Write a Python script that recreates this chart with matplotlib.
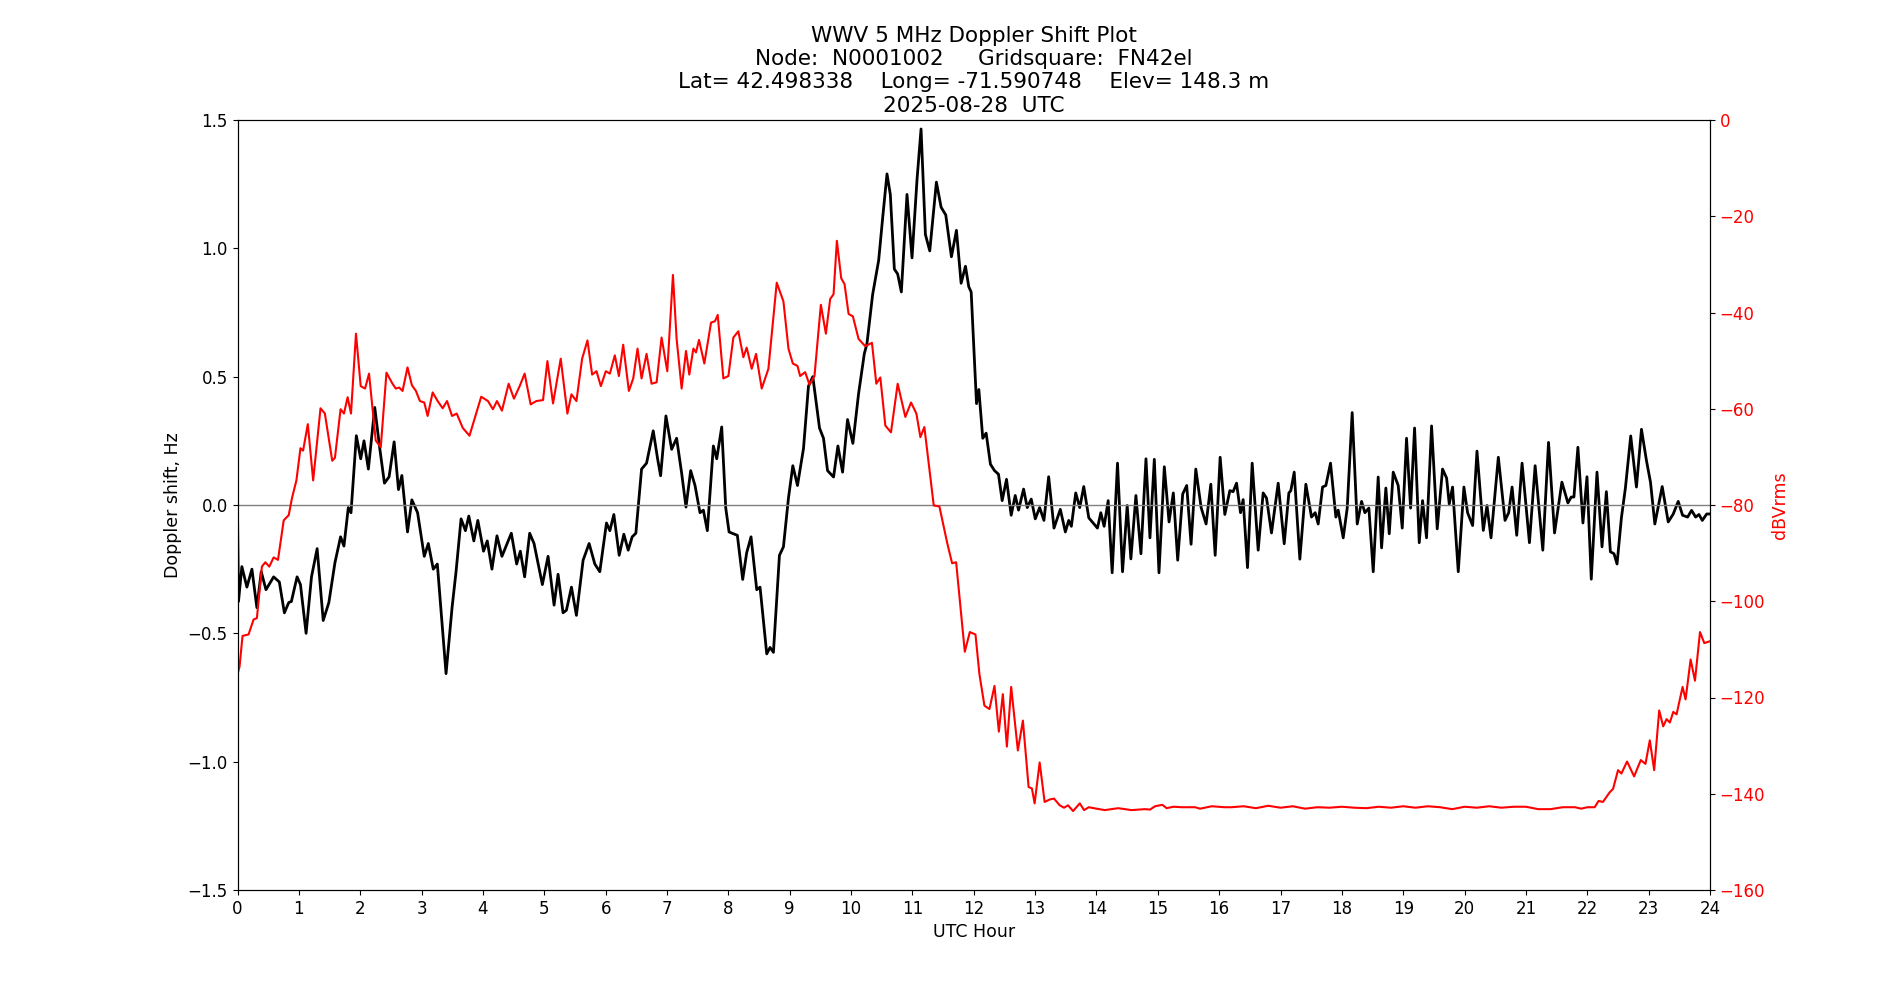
import matplotlib
matplotlib.use('Agg')
import matplotlib.pyplot as plt
import numpy as np

# Doppler shift (Hz) vs UTC hour
dop_hours = [0.0, 0.016, 0.071, 0.153, 0.235, 0.316, 0.387, 0.464, 0.589, 0.682, 0.764, 0.835, 0.878,
             0.971, 1.026, 1.118, 1.206, 1.298, 1.397, 1.489, 1.588, 1.68, 1.735, 1.806, 1.85, 1.937,
             2.008, 2.062, 2.133, 2.237, 2.319, 2.395, 2.471, 2.553, 2.624, 2.679, 2.771, 2.842, 2.935,
             3.044, 3.11, 3.191, 3.257, 3.399, 3.497, 3.562, 3.644, 3.715, 3.77, 3.852, 3.917, 4.01,
             4.071, 4.147, 4.229, 4.31, 4.463, 4.55, 4.61, 4.68, 4.762, 4.833, 4.969, 5.062, 5.16,
             5.225, 5.306, 5.361, 5.443, 5.524, 5.633, 5.731, 5.824, 5.905, 6.014, 6.069, 6.134, 6.221,
             6.297, 6.368, 6.433, 6.493, 6.586, 6.667, 6.776, 6.847, 6.896, 6.983, 7.076, 7.157, 7.239,
             7.31, 7.386, 7.457, 7.538, 7.593, 7.658, 7.756, 7.811, 7.892, 7.958, 8.012, 8.082, 8.147,
             8.234, 8.299, 8.37, 8.463, 8.517, 8.626, 8.68, 8.735, 8.833, 8.898, 8.98, 9.051, 9.127,
             9.225, 9.306, 9.377, 9.486, 9.551, 9.617, 9.715, 9.786, 9.862, 9.943, 10.03, 10.123,
             10.216, 10.259, 10.352, 10.45, 10.52, 10.586, 10.64, 10.706, 10.76, 10.82, 10.912, 10.994,
             11.076, 11.141, 11.212, 11.283, 11.391, 11.468, 11.544, 11.636, 11.718, 11.794, 11.865,
             11.919, 11.958, 12.045, 12.083, 12.147, 12.202, 12.272, 12.338, 12.403, 12.463, 12.534,
             12.61, 12.676, 12.73, 12.812, 12.872, 12.937, 13.003, 13.074, 13.144, 13.221, 13.308,
             13.411, 13.493, 13.548, 13.591, 13.662, 13.728, 13.793, 13.875, 13.946, 14.016, 14.071,
             14.125, 14.191, 14.256, 14.343, 14.425, 14.501, 14.561, 14.643, 14.725, 14.807, 14.872,
             14.943, 15.019, 15.106, 15.183, 15.253, 15.324, 15.406, 15.471, 15.542, 15.619, 15.706,
             15.787, 15.864, 15.935, 16.016, 16.092, 16.174, 16.228, 16.283, 16.348, 16.391, 16.462,
             16.538, 16.636, 16.717, 16.772, 16.853, 16.962, 17.06, 17.136, 17.168, 17.223, 17.315,
             17.413, 17.505, 17.565, 17.614, 17.685, 17.739, 17.815, 17.902, 17.94, 18.022, 18.087,
             18.168, 18.25, 18.321, 18.375, 18.44, 18.511, 18.592, 18.647, 18.717, 18.772, 18.837,
             18.918, 18.984, 19.054, 19.12, 19.185, 19.261, 19.315, 19.38, 19.462, 19.554, 19.641,
             19.707, 19.75, 19.804, 19.897, 19.989, 20.049, 20.131, 20.202, 20.305, 20.365, 20.431,
             20.55, 20.659, 20.719, 20.774, 20.85, 20.937, 21.057, 21.15, 21.275, 21.368, 21.466,
             21.586, 21.684, 21.738, 21.782, 21.847, 21.929, 21.995, 22.065, 22.158, 22.24, 22.311,
             22.376, 22.436, 22.485, 22.556, 22.621, 22.708, 22.801, 22.883, 22.965, 23.03, 23.101,
             23.221, 23.319, 23.401, 23.482, 23.553, 23.635, 23.7, 23.766, 23.82, 23.875, 23.946, 24.0]
dop_vals = [-0.02, -0.376, -0.24, -0.32, -0.25, -0.40, -0.26, -0.33, -0.28, -0.30, -0.42, -0.38, -0.376,
            -0.28, -0.31, -0.50, -0.28, -0.17, -0.45, -0.38, -0.225, -0.124, -0.16, -0.01, -0.03, 0.27,
            0.18, 0.25, 0.14, 0.38, 0.22, 0.085, 0.11, 0.246, 0.06, 0.115, -0.105, 0.02, -0.03,
            -0.20, -0.15, -0.25, -0.23, -0.657, -0.40, -0.26, -0.054, -0.10, -0.043, -0.14, -0.06, -0.18,
            -0.14, -0.25, -0.12, -0.20, -0.11, -0.23, -0.18, -0.28, -0.11, -0.15, -0.31, -0.20, -0.39,
            -0.27, -0.42, -0.41, -0.32, -0.43, -0.215, -0.15, -0.23, -0.26, -0.07, -0.10, -0.037, -0.196,
            -0.114, -0.176, -0.124, -0.11, 0.14, 0.163, 0.289, 0.18, 0.114, 0.347, 0.217, 0.26, 0.124,
            -0.008, 0.134, 0.076, -0.03, -0.02, -0.10, 0.23, 0.18, 0.304, -0.012, -0.105, -0.112, -0.118,
            -0.29, -0.186, -0.124, -0.33, -0.32, -0.58, -0.555, -0.574, -0.196, -0.163, 0.027, 0.153, 0.076,
            0.22, 0.463, 0.50, 0.30, 0.26, 0.134, 0.109, 0.23, 0.128, 0.333, 0.24, 0.434,
            0.589, 0.628, 0.82, 0.953, 1.13, 1.29, 1.21, 0.919, 0.90, 0.83, 1.21, 0.963,
            1.27, 1.465, 1.054, 0.99, 1.258, 1.16, 1.13, 0.967, 1.07, 0.864, 0.93,
            0.85, 0.83, 0.395, 0.45, 0.26, 0.28, 0.159, 0.134, 0.12, 0.017, 0.10,
            -0.04, 0.037, -0.02, 0.062, -0.01, 0.023, -0.054, -0.01, -0.06, 0.11, -0.09,
            -0.017, -0.105, -0.06, -0.083, 0.047, -0.01, 0.072, -0.05, -0.07, -0.09, -0.03,
            -0.083, 0.017, -0.264, 0.163, -0.26, -0.002, -0.21, 0.037, -0.19, 0.18, -0.128,
            0.178, -0.264, 0.149, -0.066, 0.047, -0.215, 0.043, 0.076, -0.153, 0.14, -0.01,
            -0.074, 0.081, -0.196, 0.186, -0.037, 0.056, 0.052, 0.085, -0.03, 0.021, -0.244,
            0.163, -0.176, 0.047, 0.027, -0.109, 0.085, -0.151, 0.047, 0.056, 0.128, -0.211,
            0.081, -0.047, -0.03, -0.074, 0.07, 0.076, 0.163, -0.047, -0.02, -0.128, -0.012,
            0.36, -0.074, 0.014, -0.03, -0.012, -0.26, 0.109, -0.167, 0.066, -0.112, 0.128,
            0.076, -0.09, 0.26, -0.012, 0.30, -0.147, 0.017, -0.128, 0.308, -0.093, 0.14,
            0.105, 0.004, 0.07, -0.26, 0.07, -0.03, -0.08, 0.21, -0.099, -0.002, -0.128,
            0.186, -0.06, -0.03, 0.07, -0.118, 0.163, -0.147, 0.153, -0.176, 0.244, -0.109,
            0.089, 0.008, 0.031, 0.031, 0.225, -0.07, 0.11, -0.289, 0.128, -0.163, 0.052,
            -0.182, -0.19, -0.23, -0.05, 0.066, 0.269, 0.07, 0.295, 0.172, 0.089, -0.074,
            0.072, -0.066, -0.035, 0.014, -0.04, -0.047, -0.021, -0.047, -0.037, -0.06, -0.035, -0.035]

# Received signal level (dBVrms) vs UTC hour
pwr_hours = [0.0, 0.033, 0.082, 0.18, 0.262, 0.316, 0.398, 0.453, 0.518, 0.589, 0.66, 0.753, 0.835,
             0.889, 0.96, 1.026, 1.069, 1.146, 1.233, 1.353, 1.424, 1.544, 1.588, 1.68, 1.735, 1.795,
             1.85, 1.931, 2.008, 2.079, 2.144, 2.253, 2.335, 2.428, 2.526, 2.58, 2.635, 2.69, 2.771,
             2.842, 2.908, 2.973, 3.044, 3.099, 3.181, 3.262, 3.344, 3.415, 3.497, 3.573, 3.672, 3.781,
             3.89, 3.972, 4.082, 4.163, 4.229, 4.31, 4.419, 4.506, 4.599, 4.68, 4.778, 4.871, 4.98,
             5.051, 5.143, 5.268, 5.377, 5.443, 5.524, 5.617, 5.704, 5.78, 5.851, 5.922, 6.003, 6.069,
             6.15, 6.216, 6.286, 6.379, 6.45, 6.52, 6.586, 6.667, 6.749, 6.831, 6.912, 7.005, 7.097,
             7.157, 7.239, 7.31, 7.364, 7.43, 7.473, 7.522, 7.609, 7.718, 7.783, 7.827, 7.919, 8.001,
             8.082, 8.163, 8.245, 8.299, 8.381, 8.452, 8.544, 8.653, 8.789, 8.898, 8.98, 9.051, 9.127,
             9.17, 9.252, 9.323, 9.404, 9.508, 9.59, 9.66, 9.715, 9.769, 9.84, 9.894, 9.96, 10.03,
             10.123, 10.232, 10.341, 10.412, 10.477, 10.559, 10.651, 10.76, 10.885, 10.978, 11.065,
             11.13, 11.195, 11.348, 11.44, 11.566, 11.647, 11.713, 11.854, 11.936, 12.028, 12.093,
             12.174, 12.256, 12.338, 12.409, 12.474, 12.54, 12.61, 12.719, 12.801, 12.894, 12.948,
             12.992, 13.074, 13.155, 13.237, 13.308, 13.401, 13.471, 13.537, 13.619, 13.728, 13.798,
             13.875, 14.0, 14.136, 14.354, 14.572, 14.79, 14.872, 14.954, 15.074, 15.144, 15.253,
             15.39, 15.608, 15.689, 15.88, 16.087, 16.2, 16.4, 16.6, 16.8, 17.0, 17.2, 17.4, 17.6,
             17.8, 18.0, 18.2, 18.4, 18.6, 18.8, 19.0, 19.2, 19.4, 19.6, 19.8, 20.0, 20.2, 20.4, 20.6,
             20.8, 21.0, 21.2, 21.4, 21.6, 21.8, 21.9, 22.0, 22.12, 22.184, 22.255, 22.365, 22.42,
             22.501, 22.556, 22.648, 22.763, 22.872, 22.948, 23.019, 23.09, 23.172, 23.237, 23.292,
             23.346, 23.401, 23.455, 23.553, 23.602, 23.684, 23.755, 23.837, 23.907, 24.0]
pwr_db = [-115.2, -113.6, -107.2, -106.9, -103.8, -103.5, -92.8, -91.9, -92.8, -90.9, -91.4, -83.2, -82.1,
          -78.5, -74.9, -68.2, -68.7, -63.2, -74.9, -59.9, -61.0, -70.8, -70.2, -60.1, -61.0, -57.6,
          -61.0, -44.4, -55.3, -55.8, -52.7, -66.6, -68.0, -52.5, -54.8, -55.8, -55.6, -56.3, -51.4,
          -55.1, -56.3, -58.4, -58.7, -61.5, -56.6, -58.4, -59.9, -58.4, -61.5, -61.0, -64.0, -65.6,
          -61.0, -57.5, -58.4, -60.1, -58.4, -60.4, -54.8, -57.9, -55.3, -52.7, -59.1, -58.4, -58.2,
          -50.1, -58.9, -49.6, -61.0, -57.0, -58.4, -49.6, -45.8, -52.9, -52.2, -55.3, -52.2, -52.7,
          -48.9, -53.2, -46.7, -56.3, -53.7, -47.5, -53.7, -48.6, -54.8, -54.5, -45.2, -52.2, -32.2,
          -45.5, -55.8, -48.0, -52.9, -47.5, -48.3, -45.7, -50.6, -42.1, -41.8, -40.5, -53.7, -53.2,
          -45.2, -43.9, -49.3, -47.3, -51.7, -48.6, -55.8, -51.7, -33.8, -37.7, -47.5, -50.6, -51.1,
          -53.2, -52.4, -55.0, -53.2, -38.4, -44.4, -37.2, -36.2, -25.1, -32.9, -34.1, -40.3, -40.8,
          -45.5, -47.0, -46.3, -54.8, -53.5, -63.5, -64.9, -54.8, -61.7, -58.7, -61.0,
          -65.9, -63.8, -80.1, -80.3, -87.8, -92.1, -91.9, -110.5, -106.4, -106.9, -115.2,
          -121.7, -122.4, -117.6, -127.1, -119.3, -130.2, -117.8, -131.0, -124.8, -138.6, -138.9,
          -142.0, -133.5, -141.7, -141.2, -141.0, -142.4, -142.9, -142.4, -143.6, -142.0, -143.4,
          -142.8, -143.1, -143.4, -143.0, -143.4, -143.2, -143.3, -142.6, -142.3, -143.0, -142.7,
          -142.8, -142.8, -143.1, -142.6, -142.8, -142.8, -142.6, -143.0, -142.5, -142.9, -142.6, -143.1, -142.8,
          -142.9, -142.7, -142.9, -143.0, -142.7, -142.9, -142.6, -142.9, -142.6, -142.8, -143.2, -142.7, -142.9, -142.6, -142.9,
          -142.7, -142.7, -143.2, -143.2, -142.8, -142.8, -143.1, -142.8, -142.8, -141.5, -141.7, -139.7, -139.0,
          -135.1, -135.8, -133.3, -136.4, -133.0, -133.8, -128.9, -135.1, -122.7, -126.0, -124.5,
          -125.2, -123.0, -123.5, -117.8, -120.4, -112.1, -116.5, -106.4, -108.7, -108.3]

title_lines = ['WWV 5 MHz Doppler Shift Plot',
               'Node:  N0001002     Gridsquare:  FN42el',
               'Lat= 42.498338    Long= -71.590748    Elev= 148.3 m',
               '2025-08-28  UTC']

fig = plt.figure(figsize=(19, 10), dpi=100)
ax = fig.add_subplot(111)
ax.plot(dop_hours, dop_vals, color='black', linewidth=2, solid_joinstyle='round')
ax.axhline(0, color='gray', linewidth=1)
ax.set_xlim(0, 24)
ax.set_ylim(-1.5, 1.5)
ax.set_xticks(range(0, 25))
ax.set_yticks(np.arange(-1.5, 1.51, 0.5))
ax.tick_params(labelsize=12)
ax.set_xlabel('UTC Hour', fontsize=12.5)
ax.set_ylabel('Doppler shift, Hz', fontsize=12.5)
ax.set_title('\n'.join(title_lines), fontsize=15.5)

ax2 = ax.twinx()
ax2.plot(pwr_hours, pwr_db, color='red', linewidth=1.5, solid_joinstyle='round')
ax2.set_ylim(-160, 0)
ax2.set_yticks(range(-160, 1, 20))
ax2.tick_params(axis='y', labelsize=12, labelcolor='red')
ax2.set_ylabel('dBVrms', color='red', fontsize=12.5)

plt.savefig('out.png', dpi=100)
